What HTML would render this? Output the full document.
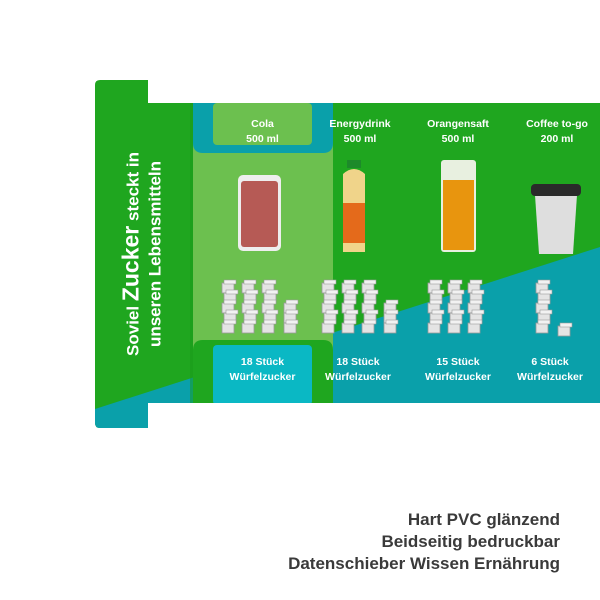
<!DOCTYPE html>
<html><head><style>
body{margin:0;width:600px;height:600px;background:#fff;position:relative;overflow:hidden;font-family:"Liberation Sans",sans-serif}
.t{position:absolute;color:#fff;font-size:10.5px;font-weight:bold;text-align:center;line-height:15px}
.b{position:absolute;right:40px;color:#3a3a3a;font-weight:bold;font-size:17px;text-align:right;line-height:22px}
</style></head><body>
<svg width="600" height="600" style="position:absolute;left:0;top:0">
<defs>
<clipPath id="c"><path d="M100 80 H148 V103 H600 V403 H148 V428 H100 Q95 428 95 423 V85 Q95 80 100 80Z"/></clipPath>
<g id="cu"><rect width="12" height="10" fill="#e4e4e4" stroke="#999" stroke-width="0.8"/><rect x="2" y="-3" width="12" height="4" fill="#f2f2f2" stroke="#999" stroke-width="0.6"/></g>
<g id="col5"><use href="#cu" y="0"/><use href="#cu" x="2" y="10"/><use href="#cu" y="20"/><use href="#cu" x="2" y="30"/><use href="#cu" y="40"/></g>
<g id="col3"><use href="#cu" y="20"/><use href="#cu" y="30"/><use href="#cu" y="40"/></g>
</defs>
<g clip-path="url(#c)">
<rect x="0" y="0" width="600" height="600" fill="#1fa61f"/>
<polygon points="95,409 600,247 600,600 95,600" fill="#0aa0aa"/>
<rect x="193" y="103" width="140" height="300" fill="#6cc04f"/>
<path d="M193 103 H333 V143 Q333 153 323 153 H203 Q193 153 193 143Z" fill="#0aa0aa"/>
<rect x="213" y="103" width="99" height="42" rx="4" fill="#6cc04f"/>
<path d="M203 340 H323 Q333 340 333 350 V405 H193 V350 Q193 340 203 340Z" fill="#1fa61f"/>
<rect x="213" y="345" width="99" height="60" rx="4" fill="#0ab8c4"/>
</g>
<rect x="190" y="103" width="3" height="300" fill="#1a9a1a" opacity="0.5"/>
<rect x="238" y="175" width="43" height="76" rx="5" fill="#eee"/>
<rect x="241" y="181" width="37" height="66" rx="3" fill="#b65a55"/>
<rect x="347" y="160" width="14" height="8" fill="#1d8a2a"/>
<path d="M343 174 Q354 164 365 174 V252 H343Z" fill="#f0d48a"/>
<rect x="343" y="203" width="22" height="40" fill="#e46a1b"/>
<rect x="441" y="160" width="35" height="92" rx="3" fill="#e8f0e0"/>
<rect x="443" y="180" width="31" height="70" fill="#e8950e"/>
<path d="M535 195 H577 L573 254 H539Z" fill="#dedede"/>
<rect x="531" y="184" width="50" height="12" rx="4" fill="#2a2a2a"/>
<g transform="translate(222,283)"><use href="#col5"/><use href="#col5" x="20"/><use href="#col5" x="40"/><use href="#col3" x="62"/></g>
<g transform="translate(322,283)"><use href="#col5"/><use href="#col5" x="20"/><use href="#col5" x="40"/><use href="#col3" x="62"/></g>
<g transform="translate(428,283)"><use href="#col5"/><use href="#col5" x="20"/><use href="#col5" x="40"/></g>
<g transform="translate(536,283)"><use href="#col5"/><use href="#cu" x="22" y="43"/></g>
</svg>
<div style="position:absolute;left:143px;top:254px;width:0;height:0">
<div style="position:absolute;transform:translate(-50%,-50%) rotate(-90deg);white-space:nowrap;color:#fff;font-weight:bold;font-size:17px;line-height:22px;text-align:center">Soviel <span style="font-size:23px">Zucker</span> steckt in<br>unseren Lebensmitteln</div></div>
<div class="t" style="left:213px;top:117px;width:99px">Cola<br>500 ml</div>
<div class="t" style="left:310px;top:117px;width:100px">Energydrink<br>500 ml</div>
<div class="t" style="left:408px;top:117px;width:100px">Orangensaft<br>500 ml</div>
<div class="t" style="left:507px;top:117px;width:100px">Coffee to-go<br>200 ml</div>
<div class="t" style="left:213px;top:355px;width:99px">18 Stück<br>Würfelzucker</div>
<div class="t" style="left:308px;top:355px;width:100px">18 Stück<br>Würfelzucker</div>
<div class="t" style="left:408px;top:355px;width:100px">15 Stück<br>Würfelzucker</div>
<div class="t" style="left:500px;top:355px;width:100px">6 Stück<br>Würfelzucker</div>
<div class="b" style="top:509px">Hart PVC glänzend<br>Beidseitig bedruckbar<br>Datenschieber Wissen Ernährung</div>
</body></html>
